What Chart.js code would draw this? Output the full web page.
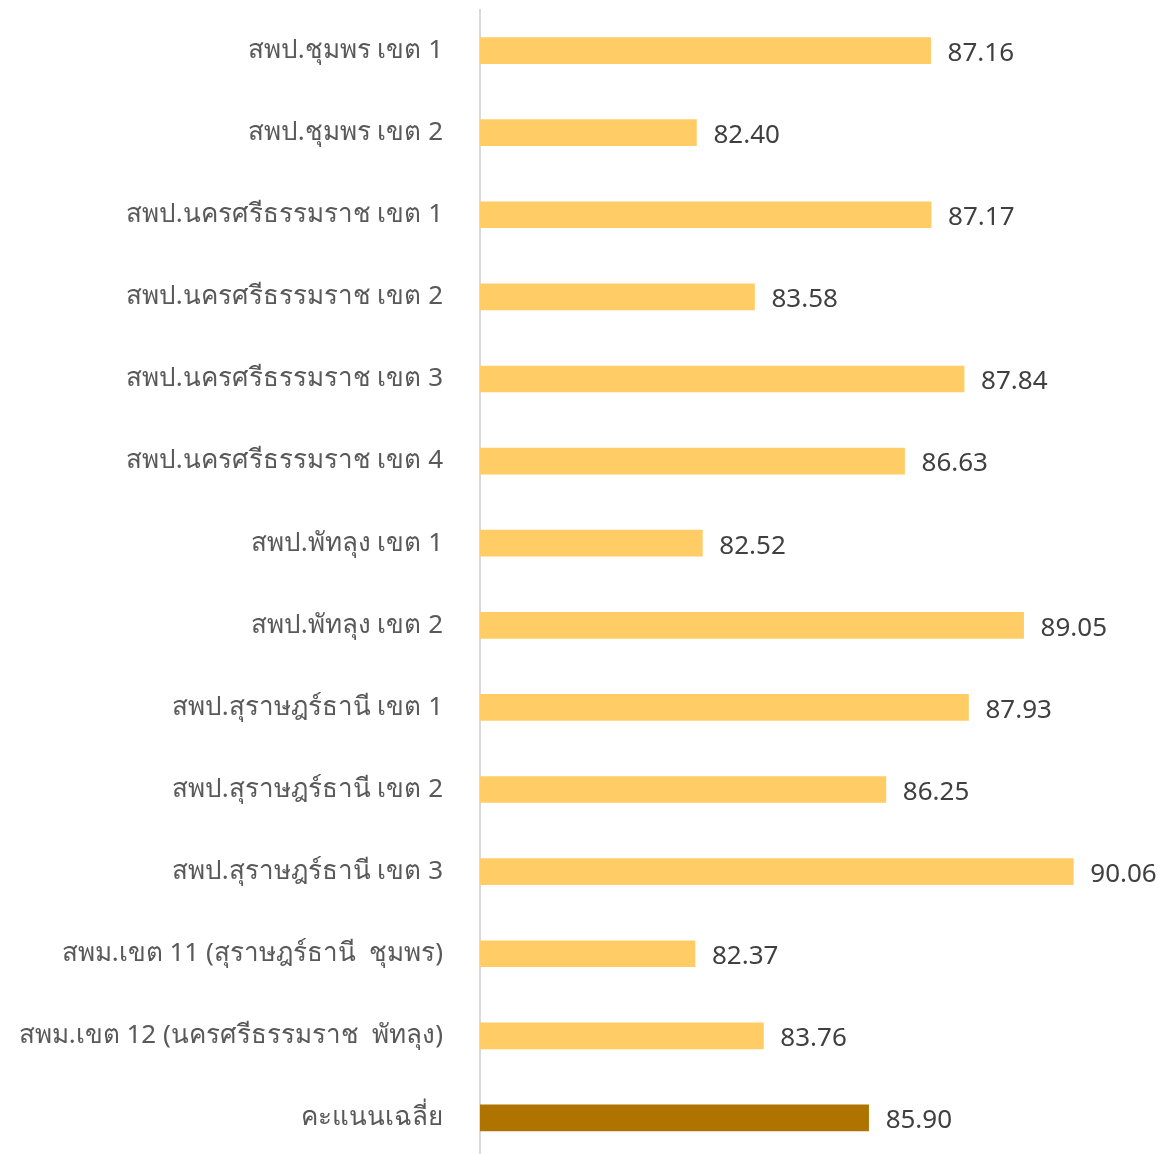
<!DOCTYPE html>
<html><head><meta charset="utf-8">
<script src="https://cdn.jsdelivr.net/npm/chart.js@4.4.1/dist/chart.umd.min.js"></script>
<style>html,body{margin:0;padding:0;background:#fff;overflow:hidden}#wrap{width:1163px;height:1160px;position:relative}</style>
</head><body><div id="wrap"><canvas id="c"></canvas></div>
<script>
const categories = ["สพป.ชุมพร เขต 1","สพป.ชุมพร เขต 2","สพป.นครศรีธรรมราช เขต 1","สพป.นครศรีธรรมราช เขต 2","สพป.นครศรีธรรมราช เขต 3","สพป.นครศรีธรรมราช เขต 4","สพป.พัทลุง เขต 1","สพป.พัทลุง เขต 2","สพป.สุราษฎร์ธานี เขต 1","สพป.สุราษฎร์ธานี เขต 2","สพป.สุราษฎร์ธานี เขต 3","สพม.เขต 11 (สุราษฎร์ธานี  ชุมพร)","สพม.เขต 12 (นครศรีธรรมราช  พัทลุง)","คะแนนเฉลี่ย"];
const scores = [87.16,82.40,87.17,83.58,87.84,86.63,82.52,89.05,87.93,86.25,90.06,82.37,83.76,85.90];
const barColors = ["#FFCC66","#FFCC66","#FFCC66","#FFCC66","#FFCC66","#FFCC66","#FFCC66","#FFCC66","#FFCC66","#FFCC66","#FFCC66","#FFCC66","#FFCC66","#AF7400"];
const FONT = "'Noto Sans', 'Liberation Sans', sans-serif";
const valueLabels = {
  id:'valueLabels',
  afterDatasetsDraw(chart){
    const ctx=chart.ctx; const meta=chart.getDatasetMeta(0);
    ctx.save(); ctx.font="26px "+FONT; ctx.fillStyle="#404040"; ctx.textBaseline="middle"; ctx.textAlign="left";
    meta.data.forEach((b,i)=>{ ctx.fillText(scores[i].toFixed(2), b.x+17, b.y+3); });
    ctx.restore();
  }
};
new Chart(document.getElementById('c'),{
  type:'bar',
  data:{labels:categories,datasets:[{data:scores,backgroundColor:barColors,barThickness:26,borderWidth:0}]},
  options:{
    indexAxis:'y',responsive:true,maintainAspectRatio:false,animation:false,
    layout:{padding:{top:9.5,right:12,bottom:1,left:0}},
    plugins:{legend:{display:false},tooltip:{enabled:false}},
    scales:{
      x:{display:false,min:78,max:91.64},
      y:{grid:{display:true,drawOnChartArea:false,drawTicks:true,tickLength:37,tickColor:'rgba(0,0,0,0)'},
         border:{display:true,color:'#D9D9D9',width:2},
         ticks:{color:'#595959',font:{family:FONT,size:26,lineHeight:0.05},padding:0},
         afterFit(s){s.width=480;}}
    }
  },
  plugins:[valueLabels]
});
</script></body></html>
